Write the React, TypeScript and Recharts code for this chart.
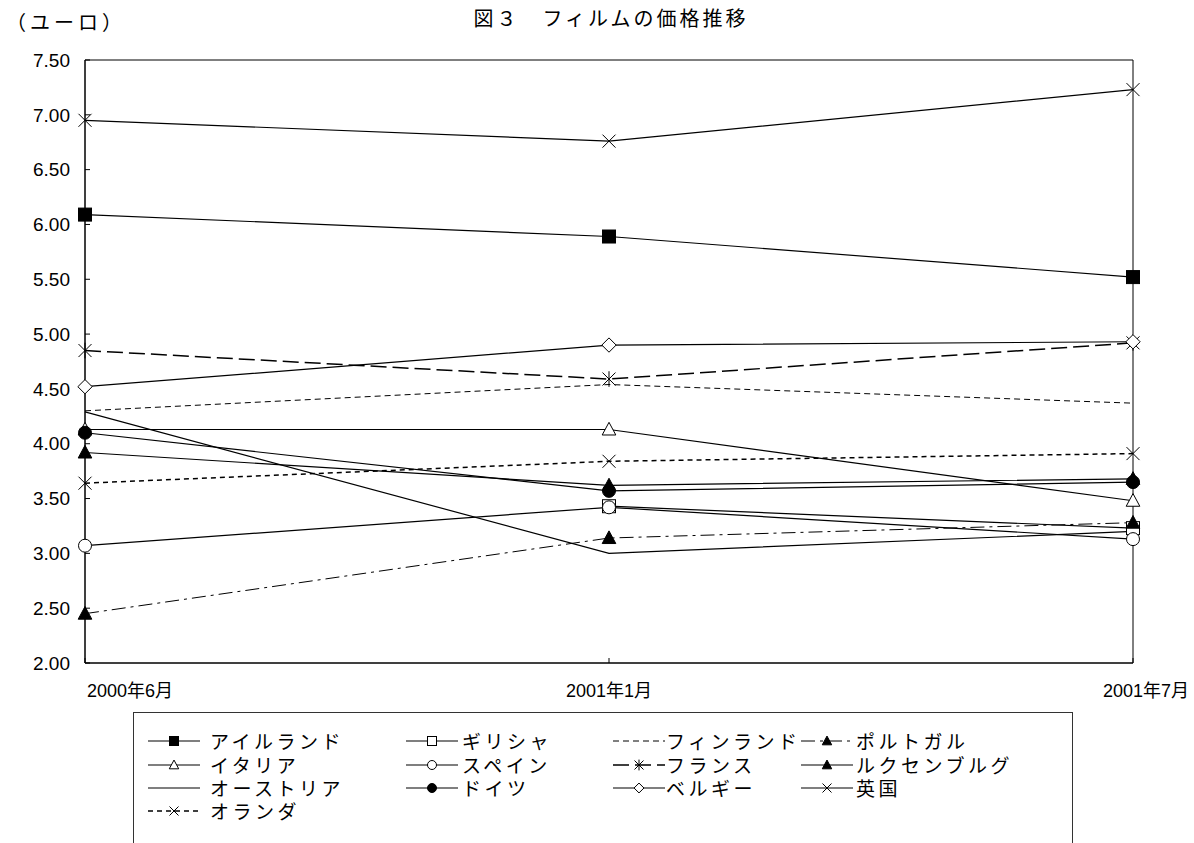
import React from "react";
import {
  LineChart,
  Line,
  XAxis,
  YAxis,
  ReferenceArea,
} from "recharts";

// 期間（横軸）
const periods = ["2000年6月", "2001年1月", "2001年7月"];
const yTicks = [2, 2.5, 3, 3.5, 4, 4.5, 5, 5.5, 6, 6.5, 7, 7.5];

// 各国のフィルム価格（ユーロ）
const ireland = [6.09, 5.89, 5.52];
const greece = [null, 3.43, 3.23];
const finland = [4.3, 4.54, 4.37];
const portugal = [2.45, 3.14, 3.28];
const italy = [4.13, 4.13, 3.48];
const spain = [3.07, 3.42, 3.13];
const france = [4.85, 4.59, 4.92];
const luxembourg = [3.92, 3.62, 3.68];
const austria = [4.29, 3.0, 3.2];
const germany = [4.1, 3.57, 3.65];
const belgium = [4.52, 4.9, 4.93];
const uk = [6.95, 6.76, 7.23];
const netherlands = [3.64, 3.84, 3.91];

type MarkerKind =
  | "squareFilled"
  | "square"
  | "triFilled"
  | "tri"
  | "circle"
  | "circleFilled"
  | "diamond"
  | "x"
  | "asterisk"
  | "none";

interface Series {
  key: string;
  name: string;
  values: (number | null)[];
  marker: MarkerKind;
  dash?: string;
  width?: number;
}

const series: Series[] = [
  { key: "ireland", name: "アイルランド", values: ireland, marker: "squareFilled" },
  { key: "greece", name: "ギリシャ", values: greece, marker: "square" },
  { key: "finland", name: "フィンランド", values: finland, marker: "none", dash: "6 4", width: 1 },
  { key: "portugal", name: "ポルトガル", values: portugal, marker: "triFilled", dash: "14 5 3 5", width: 1 },
  { key: "italy", name: "イタリア", values: italy, marker: "tri" },
  { key: "spain", name: "スペイン", values: spain, marker: "circle" },
  { key: "france", name: "フランス", values: france, marker: "asterisk", dash: "16 6", width: 1.5 },
  { key: "luxembourg", name: "ルクセンブルグ", values: luxembourg, marker: "triFilled" },
  { key: "austria", name: "オーストリア", values: austria, marker: "none" },
  { key: "germany", name: "ドイツ", values: germany, marker: "circleFilled" },
  { key: "belgium", name: "ベルギー", values: belgium, marker: "diamond" },
  { key: "uk", name: "英国", values: uk, marker: "x" },
  { key: "netherlands", name: "オランダ", values: netherlands, marker: "x", dash: "5 4", width: 1.5 },
];

const data = periods.map((p, i) => {
  const row: Record<string, string | number | null> = { period: p };
  series.forEach((s) => {
    row[s.key] = s.values[i];
  });
  return row;
});

const NUM_FONT = "'Liberation Sans', Arial, 'Noto Sans CJK JP', sans-serif";
const JP_FONT = "'Noto Sans CJK JP', sans-serif";

function markerShape(kind: MarkerKind, cx: number, cy: number, s: number) {
  const stroke = "#000";
  switch (kind) {
    case "squareFilled":
    case "square":
      return (
        <rect
          x={cx - s}
          y={cy - s}
          width={s * 2}
          height={s * 2}
          fill={kind === "square" ? "#fff" : "#000"}
          stroke={stroke}
          strokeWidth={1}
        />
      );
    case "triFilled":
    case "tri":
      return (
        <polygon
          points={`${cx},${cy - s * 1.1} ${cx + s * 1.05},${cy + s * 0.85} ${cx - s * 1.05},${cy + s * 0.85}`}
          fill={kind === "tri" ? "#fff" : "#000"}
          stroke={stroke}
          strokeWidth={1}
        />
      );
    case "circle":
    case "circleFilled":
      return (
        <circle
          cx={cx}
          cy={cy}
          r={s}
          fill={kind === "circle" ? "#fff" : "#000"}
          stroke={stroke}
          strokeWidth={1}
        />
      );
    case "diamond":
      return (
        <polygon
          points={`${cx},${cy - s * 1.1} ${cx + s * 1.1},${cy} ${cx},${cy + s * 1.1} ${cx - s * 1.1},${cy}`}
          fill="#fff"
          stroke={stroke}
          strokeWidth={1}
        />
      );
    case "x":
    case "asterisk":
      return (
        <g stroke={stroke} strokeWidth={1}>
          <line x1={cx - s} y1={cy - s} x2={cx + s} y2={cy + s} />
          <line x1={cx - s} y1={cy + s} x2={cx + s} y2={cy - s} />
          {kind === "asterisk" && <line x1={cx} y1={cy - s * 1.2} x2={cx} y2={cy + s * 1.2} />}
        </g>
      );
    default:
      return null;
  }
}

const makeDot = (s: Series) => (p: any) => {
  const { cx, cy, value, index } = p;
  if (s.marker === "none" || value == null || cx == null || cy == null) {
    return <g key={`${s.key}-${index}`} />;
  }
  return <g key={`${s.key}-${index}`}>{markerShape(s.marker, cx, cy, 6.5)}</g>;
};

// 端のラベルは枠内・枠外に寄せる
const XTick = (props: any) => {
  const { x, y, payload, index } = props;
  const last = index === periods.length - 1;
  const anchor = index === 0 ? "start" : last ? "end" : "middle";
  const dx = index === 0 ? 2 : last ? 56 : 0;
  return (
    <text
      x={x + dx}
      y={y}
      dy={19}
      textAnchor={anchor}
      fontSize={18}
      fontFamily={NUM_FONT}
      fill="#000"
    >
      {payload.value}
    </text>
  );
};

// 凡例の配置（4列）
const legendSampleX = [14, 272, 479, 667];
const legendTextX = [76, 328, 532, 722];
const legendRows = [28, 52, 75, 98];

const LegendSample = ({ s }: { s: Series }) => (
  <svg width={52} height={16} style={{ display: "block" }}>
    <line
      x1={0}
      y1={8}
      x2={52}
      y2={8}
      stroke="#000"
      strokeWidth={s.width ?? 1.2}
      strokeDasharray={s.dash}
    />
    {markerShape(s.marker, 26, 8, 4.5)}
  </svg>
);

export default function App() {
  return (
    <div
      style={{
        position: "absolute",
        left: 0,
        top: 0,
        width: 1194,
        height: 843,
        background: "#fff",
        overflow: "hidden",
      }}
    >
      <div
        style={{
          position: "absolute",
          left: 0,
          width: 1194,
          top: 6,
          textAlign: "center",
          paddingLeft: 14,
          fontFamily: JP_FONT,
          fontSize: 20,
          letterSpacing: 3,
          lineHeight: "24px",
          color: "#000",
        }}
      >
        図３　フィルムの価格推移
      </div>
      <div
        style={{
          position: "absolute",
          left: 6,
          top: 10,
          fontFamily: JP_FONT,
          fontSize: 20,
          letterSpacing: 4,
          lineHeight: "24px",
          color: "#000",
        }}
      >
        （ユーロ）
      </div>

      <LineChart
        width={1194}
        height={843}
        data={data}
        margin={{ top: 60, right: 61, bottom: 0, left: 0 }}
      >
        <XAxis
          dataKey="period"
          height={180}
          axisLine={{ stroke: "#000" }}
          tickLine={{ stroke: "#000" }}
          tickSize={-5}
          tickMargin={20}
          tick={<XTick />}
          interval={0}
        />
        <YAxis
          width={85}
          domain={[2, 7.5]}
          ticks={yTicks}
          tickFormatter={(v: number) => v.toFixed(2)}
          axisLine={{ stroke: "#000" }}
          tickLine={{ stroke: "#000" }}
          tickSize={-5}
          tickMargin={20}
          tick={{ fontSize: 19, fontFamily: NUM_FONT, fill: "#000" }}
          interval={0}
        />
        <ReferenceArea
          x1={periods[0]}
          x2={periods[periods.length - 1]}
          y1={2}
          y2={7.5}
          fill="none"
          fillOpacity={0}
          stroke="#000"
          strokeWidth={1}
        />
        {series.map((s) => (
          <Line
            key={s.key}
            dataKey={s.key}
            name={s.name}
            type="linear"
            stroke="#000"
            strokeWidth={s.width ?? 1.2}
            strokeDasharray={s.dash}
            dot={makeDot(s)}
            activeDot={false}
            connectNulls={false}
            isAnimationActive={false}
          />
        ))}
      </LineChart>

      <div
        style={{
          position: "absolute",
          left: 133,
          top: 712,
          width: 940,
          height: 150,
          border: "1px solid #333",
          boxSizing: "border-box",
        }}
      >
        {series.map((s, i) => {
          const col = i % 4;
          const cy = legendRows[Math.floor(i / 4)];
          return (
            <React.Fragment key={s.key}>
              <div style={{ position: "absolute", left: legendSampleX[col], top: cy - 8 }}>
                <LegendSample s={s} />
              </div>
              <div
                style={{
                  position: "absolute",
                  left: legendTextX[col],
                  top: cy - 10,
                  fontFamily: JP_FONT,
                  fontSize: 19,
                  letterSpacing: 3.5,
                  lineHeight: "20px",
                  whiteSpace: "nowrap",
                  color: "#000",
                }}
              >
                {s.name}
              </div>
            </React.Fragment>
          );
        })}
      </div>
    </div>
  );
}
